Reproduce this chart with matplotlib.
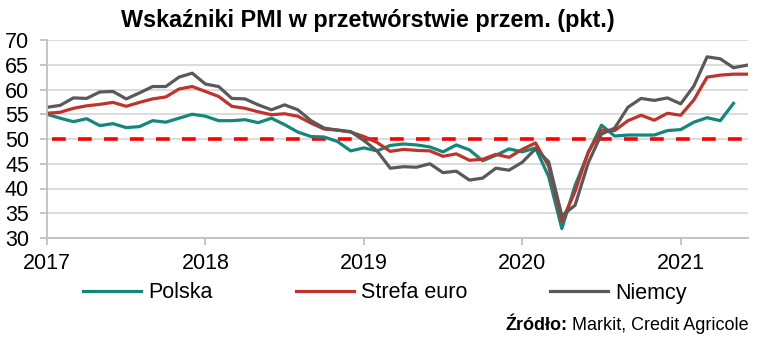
import matplotlib.pyplot as plt
import numpy as np

plt.rcParams["font.family"] = ["Liberation Sans", "DejaVu Sans"]

# Monthly PMI readings, Jan 2017 onwards
polska = [
    55.0, 54.2, 53.5, 54.1, 52.7, 53.1, 52.3, 52.5, 53.7, 53.4, 54.2, 55.0,
    54.6, 53.7, 53.7, 53.9, 53.3, 54.2, 52.9, 51.4, 50.5, 50.4, 49.5, 47.6,
    48.2, 47.6, 48.7, 49.0, 48.8, 48.4, 47.4, 48.8, 47.8, 45.6, 46.7, 48.0,
    47.4, 48.2, 42.4, 31.9, 40.6, 47.2, 52.8, 50.6, 50.8, 50.8, 50.8, 51.7,
    51.9, 53.4, 54.3, 53.7, 57.2,
]
strefa_euro = [
    55.2, 55.4, 56.2, 56.7, 57.0, 57.4, 56.6, 57.4, 58.1, 58.5, 60.1, 60.6,
    59.6, 58.6, 56.6, 56.2, 55.5, 54.9, 55.1, 54.6, 53.2, 52.0, 51.8, 51.4,
    50.5, 49.3, 47.5, 47.9, 47.7, 47.6, 46.5, 47.0, 45.7, 45.9, 46.9, 46.3,
    47.9, 49.2, 44.5, 33.4, 39.4, 47.4, 51.8, 51.7, 53.7, 54.8, 53.8, 55.2,
    54.8, 57.9, 62.5, 62.9, 63.1, 63.1,
]
niemcy = [
    56.4, 56.8, 58.3, 58.2, 59.5, 59.6, 58.1, 59.3, 60.6, 60.6, 62.5, 63.3,
    61.1, 60.6, 58.2, 58.1, 56.9, 55.9, 56.9, 55.9, 53.7, 52.2, 51.8, 51.5,
    49.7, 47.6, 44.1, 44.4, 44.3, 45.0, 43.2, 43.5, 41.7, 42.1, 44.1, 43.7,
    45.3, 48.0, 45.4, 34.5, 36.6, 45.2, 51.0, 52.2, 56.4, 58.2, 57.8, 58.3,
    57.1, 60.7, 66.6, 66.2, 64.4, 64.9,
]
years = ["2017", "2018", "2019", "2020", "2021"]
threshold = 50

fig = plt.figure(figsize=(7.64, 3.42), dpi=100)
ax = fig.add_axes([47 / 764, 1 - 238 / 342, (748 - 47) / 764, (238 - 40) / 342])

ax.plot(np.arange(len(polska)), polska, color="#13877b", lw=2.3, label="Polska")
ax.plot(np.arange(len(strefa_euro)), strefa_euro, color="#c0332b", lw=2.3,
        label="Strefa euro")
ax.plot(np.arange(len(niemcy)), niemcy, color="#595959", lw=2.3, label="Niemcy")
ax.axhline(threshold, xmin=0.007, xmax=1, color="#ff0000", lw=2.6,
           dashes=(3.8, 3.4), zorder=1)

ax.set_ylim(30, 70)
ax.set_yticks(np.arange(30, 71, 5))
ax.set_xlim(0, 53.1)
ax.set_xticks(np.arange(len(years)) * 12, years)
ax.grid(axis="y", color="#d9d9d9", lw=1.3)
ax.set_axisbelow(True)
for s in ["top", "right"]:
    ax.spines[s].set_visible(False)
for s in ["left", "bottom"]:
    ax.spines[s].set_color("#c0c0c0")
    ax.spines[s].set_linewidth(1.3)
ax.tick_params(axis="both", colors="#c0c0c0", width=1.3, length=5,
               labelcolor="black", labelsize=15.5)
ax.tick_params(axis="y", pad=8)
ax.tick_params(axis="x", pad=6)

fig.text(368 / 764, 1 - 20 / 342, "Wskaźniki PMI w przetwórstwie przem. (pkt.)",
         ha="center", va="center", fontsize=16.8, fontweight="bold")

fig.legend(loc="center", bbox_to_anchor=(385 / 764, 1 - 293 / 342), ncol=3,
           frameon=False, fontsize=15.5, handlelength=2.7, handletextpad=0.33,
           columnspacing=3.85)

src = fig.text(749 / 764, 1 - 325 / 342, " Markit, Credit Agricole", ha="right",
               va="center", fontsize=13)
ax.annotate("Źródło:", xy=(0, 0.5), xycoords=src, ha="right", va="center",
            fontsize=13, fontweight="bold")

fig.savefig("out.png", dpi=100)
